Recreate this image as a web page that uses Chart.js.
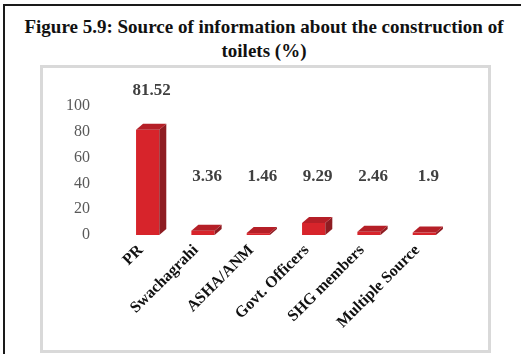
<!DOCTYPE html>
<html>
<head>
<meta charset="utf-8">
<script src="https://cdn.jsdelivr.net/npm/chart.js@4"></script>
<style>
  body { margin: 0; background: #fff; width: 521px; height: 354px; overflow: hidden; position: relative; }
  .frame { position: absolute; left: 3px; top: 4px; width: 600px; height: 400px;
           border-left: 2px solid #1a1a1a; border-top: 2px solid #1a1a1a; }
  .title { position: absolute; left: 0; top: 15px; width: 528px; text-align: center;
           font: bold 19px "Liberation Serif", "Times New Roman", serif; line-height: 24px;
           color: #111; white-space: nowrap; }
  .box { position: absolute; left: 40px; top: 65px; width: 451px; height: 288px;
         box-sizing: border-box; border: 3px solid #d9d9d9; background: #fff; }
  canvas { display: block; }
</style>
</head>
<body>
<div class="frame"></div>
<div class="title">Figure 5.9: Source of information about the construction of<br>toilets (%)</div>
<div class="box"><canvas id="chart" width="445" height="282"></canvas></div>
<script>
// Source of information about toilet construction (%)
const categories = ['PR', 'Swachagrahi', 'ASHA/ANM', 'Govt. Officers', 'SHG members', 'Multiple Source'];
const values = [81.52, 3.36, 1.46, 9.29, 2.46, 1.9];
const yTicks = [0, 20, 40, 60, 80, 100];

const serif = '"Liberation Serif", "Times New Roman", serif';

// 3D look: side and top faces for each bar
const bar3d = {
    id: 'bar3d',
    afterDatasetsDraw(chart) {
        const ctx = chart.ctx;
        const dx = 7, dy = 6;
        chart.getDatasetMeta(0).data.forEach(function(bar) {
            const left = bar.x - bar.width / 2;
            const right = bar.x + bar.width / 2;
            ctx.save();
            // side
            ctx.fillStyle = '#8e1c22';
            ctx.beginPath();
            ctx.moveTo(right, bar.y);
            ctx.lineTo(right + dx, bar.y - dy);
            ctx.lineTo(right + dx, bar.base - dy);
            ctx.lineTo(right, bar.base);
            ctx.closePath();
            ctx.fill();
            // top
            ctx.fillStyle = '#b51f27';
            ctx.beginPath();
            ctx.moveTo(left, bar.y);
            ctx.lineTo(left + dx, bar.y - dy);
            ctx.lineTo(right + dx, bar.y - dy);
            ctx.lineTo(right, bar.y);
            ctx.closePath();
            ctx.fill();
            ctx.restore();
        });
    }
};

// value labels above the bars
const valueLabels = {
    id: 'valueLabels',
    afterDatasetsDraw(chart) {
        const ctx = chart.ctx;
        const yScale = chart.scales.y;
        const limit = yScale.getPixelForValue(45);
        ctx.save();
        ctx.font = 'bold 17px ' + serif;
        ctx.fillStyle = '#404040';
        ctx.textAlign = 'center';
        ctx.textBaseline = 'middle';
        chart.getDatasetMeta(0).data.forEach(function(bar, i) {
            const y = Math.min(bar.y - 39, limit);
            ctx.fillText(String(values[i]), bar.x + 4, y);
        });
        ctx.restore();
    }
};

new Chart(document.getElementById('chart').getContext('2d'), {
    type: 'bar',
    data: {
        labels: categories,
        datasets: [{
            data: values,
            backgroundColor: '#d7242b',
            borderWidth: 0,
            barPercentage: 0.42,
            categoryPercentage: 1
        }]
    },
    options: {
        responsive: false,
        animation: false,
        layout: {
            padding: { top: 38, right: 36, left: 0, bottom: 0 }
        },
        scales: {
            y: {
                min: 0,
                max: 100,
                afterBuildTicks: function(scale) {
                    scale.ticks = yTicks.map(function(v) { return { value: v }; });
                },
                afterFit: function(scale) { scale.width = 77; },
                grid: { display: false },
                border: { display: false },
                ticks: {
                    padding: 22,
                    color: '#595959',
                    font: { family: serif, size: 16 }
                }
            },
            x: {
                afterFit: function(scale) { scale.height = 115; },
                grid: { display: false },
                border: { display: false },
                ticks: {
                    minRotation: 45,
                    maxRotation: 45,
                    padding: -2,
                    labelOffset: -7,
                    color: '#111',
                    font: { family: serif, size: 16, weight: 'bold' }
                }
            }
        },
        plugins: {
            legend: { display: false },
            tooltip: { enabled: false }
        }
    },
    plugins: [bar3d, valueLabels]
});
</script>
</body>
</html>
